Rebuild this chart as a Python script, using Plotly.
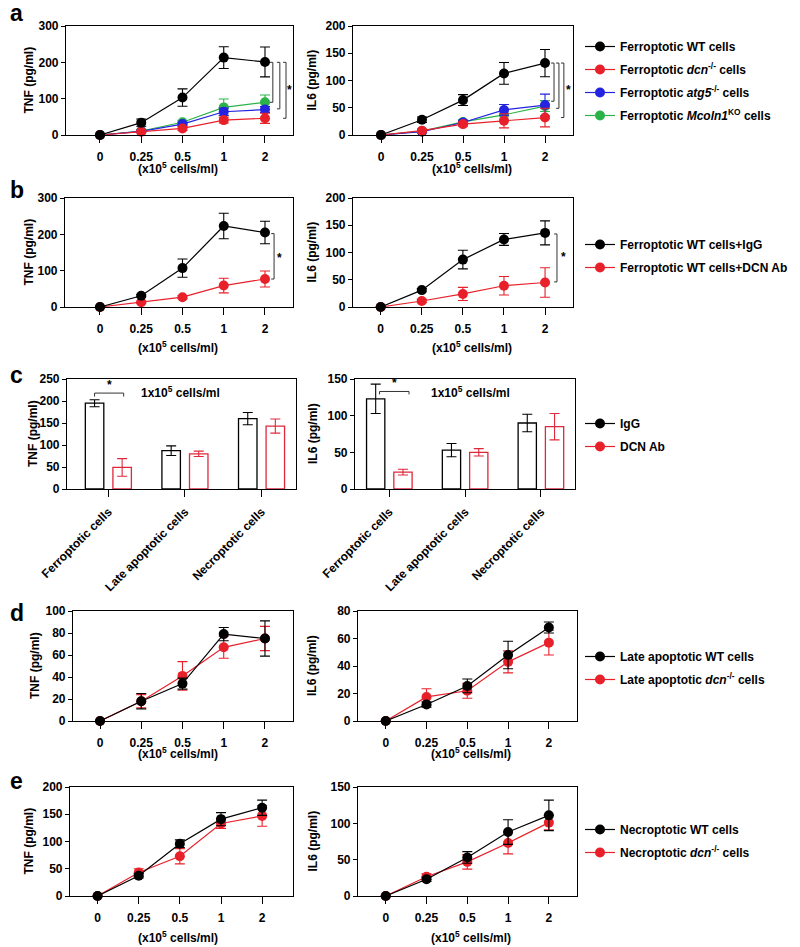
import plotly.graph_objects as go

W, H = 800, 947
OFF = 8  # the page body margin shifts the figure by this many pixels
FONT = "Liberation Sans, Arial, Helvetica, sans-serif"
BLACK = "#000000"
RED = "#e8202a"
BLUE = "#2323e0"
GREEN = "#2bb34a"
BAR_RED = "#e0283c"


def fx(p):
    return (p - OFF) / W


def fy(p):
    return 1 - (p - OFF) / H


# ---------------- data ----------------
conc_labels = ["0", "0.25", "0.5", "1", "2"]

# panel a
a_tnf_wt = [0, 34, 103, 213, 201]
a_tnf_wt_err = [0, 10, 24, 30, 41]
a_tnf_dcn = [0, 9, 18, 41, 46]
a_tnf_dcn_err = [0, 3, 5, 8, 14]
a_tnf_atg5 = [0, 10, 30, 64, 70]
a_tnf_atg5_err = [0, 3, 5, 10, 8]
a_tnf_mcoln1 = [0, 11, 35, 76, 90]
a_tnf_mcoln1_err = [0, 3, 5, 23, 20]

a_il6_wt = [0, 28, 64, 113, 132]
a_il6_wt_err = [0, 5, 10, 20, 25]
a_il6_dcn = [0, 8, 20, 26, 32]
a_il6_dcn_err = [0, 3, 4, 13, 17]
a_il6_atg5 = [0, 6, 23, 46, 55]
a_il6_atg5_err = [0, 2, 4, 10, 20]
a_il6_mcoln1 = [0, 7, 24, 37, 53]
a_il6_mcoln1_err = [0, 2, 4, 8, 10]

# panel b
b_tnf_igg = [0, 31, 107, 223, 205]
b_tnf_igg_err = [0, 3, 25, 35, 31]
b_tnf_dcnab = [0, 13, 27, 59, 77]
b_tnf_dcnab_err = [0, 3, 4, 20, 22]
b_il6_igg = [0, 31, 87, 124, 136]
b_il6_igg_err = [0, 3, 17, 11, 22]
b_il6_dcnab = [0, 11, 24, 39, 45]
b_il6_dcnab_err = [0, 3, 12, 17, 27]

# panel c
c_cats = ["Ferroptotic cells", "Late apoptotic cells", "Necroptotic cells"]
c_tnf_igg = [195, 87, 160]
c_tnf_igg_err = [8, 11, 14]
c_tnf_dcnab = [49, 80, 143]
c_tnf_dcnab_err = [20, 6, 16]
c_il6_igg = [123, 53, 90]
c_il6_igg_err = [20, 9, 12]
c_il6_dcnab = [23, 50, 85]
c_il6_dcnab_err = [4, 5, 18]

# panel d
d_tnf_wt = [0, 18, 34, 79, 75]
d_tnf_wt_err = [0, 7, 5, 6, 16]
d_tnf_dcn = [0, 18, 41, 67, 75]
d_tnf_dcn_err = [0, 6, 13, 10, 11]
d_il6_wt = [0, 12, 25.5, 48, 68]
d_il6_wt_err = [0, 2, 5, 10, 4]
d_il6_dcn = [0, 17.5, 22, 43, 57]
d_il6_dcn_err = [0, 6, 5.5, 8, 9]

# panel e
e_tnf_wt = [0, 37, 96, 141, 162]
e_tnf_wt_err = [0, 4, 7, 12, 14]
e_tnf_dcn = [0, 43, 73, 133, 147]
e_tnf_dcn_err = [0, 7, 14, 9, 19]
e_il6_wt = [0, 23, 53, 88, 111]
e_il6_wt_err = [0, 3, 8, 17, 21]
e_il6_dcn = [0, 26.5, 47, 73, 101]
e_il6_dcn_err = [0, 4, 10, 15, 10]

# significance brackets: (panel, x, top, bottom)
brackets_v = [
    (1, 4.19, 200, 90), (1, 4.36, 200, 72), (1, 4.51, 200, 46),
    (2, 4.22, 132, 62), (2, 4.34, 132, 49), (2, 4.46, 132, 32),
    (3, 4.22, 202, 77),
    (4, 4.29, 134, 46),
]
stars_v = [(1, 4.6, 123), (2, 4.58, 83), (3, 4.36, 136), (4, 4.45, 92)]
brackets_h = [(5, -0.18, 0.2, 218, 210), (6, -0.13, 0.26, 133, 129)]
stars_h = [(5, 0.01, 236), (6, 0.07, 145)]

# ---------------- layout geometry (pixels) ----------------
# (left, right, top, bottom, xrange, yrange, dtick, ytitle, ytitle_x)
panels = [
    (66, 293, 26, 135, [-0.824, 4.679], [0, 300], 100, "TNF (pg/ml)", 28),
    (353, 573, 26, 135, [-0.683, 4.683], [0, 200], 50, "IL6 (pg/ml)", 311),
    (65, 293, 198, 307, [-0.848, 4.679], [0, 300], 100, "TNF (pg/ml)", 28),
    (353, 573, 198, 307, [-0.674, 4.68], [0, 200], 50, "IL6 (pg/ml)", 311),
    (67, 296, 379, 489, [-0.54, 2.45], [0, 250], 50, "TNF (pg/ml)", 33),
    (355, 575, 379, 489, [-0.453, 2.45], [0, 150], 50, "IL6 (pg/ml)", 313),
    (73, 293, 611, 721, [-0.655, 4.68], [0, 100], 20, "TNF (pg/ml)", 35),
    (358, 577, 611, 721, [-0.68, 4.69], [0, 80], 20, "IL6 (pg/ml)", 312),
    (70, 293, 787, 896, [-0.67, 4.75], [0, 200], 50, "TNF (pg/ml)", 28),
    (358, 577, 787, 896, [-0.68, 4.69], [0, 150], 50, "IL6 (pg/ml)", 312),
]

fig = go.Figure()


def ax_ids(i):
    return ("x" if i == 1 else f"x{i}"), ("y" if i == 1 else f"y{i}")


def line(i, ys, errs, color, name, legend, rank, show):
    xr, yr = ax_ids(i)
    fig.add_trace(go.Scatter(
        x=conc_labels, y=ys, mode="lines+markers", name=name,
        xaxis=xr, yaxis=yr, legend=legend, legendrank=rank,
        legendgroup=legend + name, showlegend=show, cliponaxis=False,
        line=dict(color=color, width=1.2),
        marker=dict(color=color, size=10, symbol="circle"),
        error_y=dict(type="data", array=errs, visible=True, color=color,
                     thickness=1.1, width=5),
    ))


# panel a
wt = "Ferroptotic WT cells"
dcn = "Ferroptotic <i>dcn</i><sup>-/-</sup> cells"
atg = "Ferroptotic <i>atg5</i><sup>-/-</sup> cells"
mco = "Ferroptotic <i>Mcoln1</i><sup>KO</sup> cells"
for i, (g, ge, bl, ble, r, re, k, ke), show in [
    (1, (a_tnf_mcoln1, a_tnf_mcoln1_err, a_tnf_atg5, a_tnf_atg5_err,
         a_tnf_dcn, a_tnf_dcn_err, a_tnf_wt, a_tnf_wt_err), True),
    (2, (a_il6_mcoln1, a_il6_mcoln1_err, a_il6_atg5, a_il6_atg5_err,
         a_il6_dcn, a_il6_dcn_err, a_il6_wt, a_il6_wt_err), False),
]:
    line(i, g, ge, GREEN, mco, "legend", 4, show)
    line(i, bl, ble, BLUE, atg, "legend", 3, show)
    line(i, r, re, RED, dcn, "legend", 2, show)
    line(i, k, ke, BLACK, wt, "legend", 1, show)

# panel b
line(3, b_tnf_dcnab, b_tnf_dcnab_err, RED, "Ferroptotic WT cells+DCN Ab", "legend2", 2, True)
line(3, b_tnf_igg, b_tnf_igg_err, BLACK, "Ferroptotic WT cells+IgG", "legend2", 1, True)
line(4, b_il6_dcnab, b_il6_dcnab_err, RED, "Ferroptotic WT cells+DCN Ab", "legend2", 2, False)
line(4, b_il6_igg, b_il6_igg_err, BLACK, "Ferroptotic WT cells+IgG", "legend2", 1, False)

# panel c (bars)
for i, (ig, ige, dc, dce) in [
    (5, (c_tnf_igg, c_tnf_igg_err, c_tnf_dcnab, c_tnf_dcnab_err)),
    (6, (c_il6_igg, c_il6_igg_err, c_il6_dcnab, c_il6_dcnab_err)),
]:
    xr, yr = ax_ids(i)
    for ys, es, col, nm in [(ig, ige, BLACK, "IgG"), (dc, dce, BAR_RED, "DCN Ab")]:
        fig.add_trace(go.Bar(
            x=c_cats, y=ys, name=nm, xaxis=xr, yaxis=yr, showlegend=False,
            offsetgroup=nm, marker=dict(color="white", line=dict(color=col, width=1.3)),
            error_y=dict(type="data", array=es, visible=True, color=col,
                         thickness=1.1, width=5),
        ))
# legend entries for c
for nm, col, rk in [("IgG", BLACK, 1), ("DCN Ab", RED, 2)]:
    fig.add_trace(go.Scatter(
        x=[None], y=[None], mode="lines+markers", name=nm, xaxis="x5", yaxis="y5",
        legend="legend3", legendrank=rk, legendgroup="c" + nm,
        line=dict(color=col, width=1.2), marker=dict(color=col, size=10),
    ))

# panel d
line(7, d_tnf_dcn, d_tnf_dcn_err, RED, "Late apoptotic <i>dcn</i><sup>-/-</sup> cells", "legend4", 2, True)
line(7, d_tnf_wt, d_tnf_wt_err, BLACK, "Late apoptotic WT cells", "legend4", 1, True)
line(8, d_il6_dcn, d_il6_dcn_err, RED, "Late apoptotic <i>dcn</i><sup>-/-</sup> cells", "legend4", 2, False)
line(8, d_il6_wt, d_il6_wt_err, BLACK, "Late apoptotic WT cells", "legend4", 1, False)

# panel e
line(9, e_tnf_dcn, e_tnf_dcn_err, RED, "Necroptotic <i>dcn</i><sup>-/-</sup> cells", "legend5", 2, True)
line(9, e_tnf_wt, e_tnf_wt_err, BLACK, "Necroptotic WT cells", "legend5", 1, True)
line(10, e_il6_dcn, e_il6_dcn_err, RED, "Necroptotic <i>dcn</i><sup>-/-</sup> cells", "legend5", 2, False)
line(10, e_il6_wt, e_il6_wt_err, BLACK, "Necroptotic WT cells", "legend5", 1, False)

# ---------------- axes ----------------
layout = {}
annotations = []
for i, (l, r, t, b, xrng, yrng, dt, ytitle, ytx) in enumerate(panels, start=1):
    xk = "xaxis" if i == 1 else f"xaxis{i}"
    yk = "yaxis" if i == 1 else f"yaxis{i}"
    xr, yr = ax_ids(i)
    layout[xk] = dict(
        domain=[fx(l), fx(r)], anchor=yr, type="category", range=xrng,
        automargin=False,
        showline=True, mirror=True, linecolor="black", linewidth=1.2,
        ticks="outside", ticklen=7, tickwidth=1.2, tickcolor="black",
        tickfont=dict(family=FONT, size=12, color="black", weight="bold"),
        showgrid=False, zeroline=False, ticklabelstandoff=3,
        tickangle=-45 if i in (5, 6) else 0,
    )
    layout[yk] = dict(
        domain=[fy(b), fy(t)], anchor=xr, range=yrng, dtick=dt,
        automargin=False,
        showline=True, mirror=True, linecolor="black", linewidth=1.2,
        ticks="outside", ticklen=4, tickwidth=1.2, tickcolor="black",
        tickfont=dict(family=FONT, size=12, color="black", weight="bold"),
        showgrid=False, zeroline=False,
    )
    annotations.append(dict(
        text=ytitle, textangle=-90, x=fx(ytx), y=fy((t + b) / 2),
        xref="paper", yref="paper", xanchor="center", yanchor="middle",
        showarrow=False, font=dict(family=FONT, size=12, color="black", weight="bold"),
    ))

# x-axis titles
xt_text = "(x10<sup>5</sup> cells/ml)"
for xp, yp in [(178, 168), (472, 168), (178, 347), (472, 347),
               (178, 753), (471, 753), (178, 937), (471, 937)]:
    annotations.append(dict(
        text=xt_text, x=fx(xp), y=fy(yp), xref="paper", yref="paper",
        xanchor="center", yanchor="middle", showarrow=False,
        font=dict(family=FONT, size=12, color="black", weight="bold"),
    ))

# panel c note
for xp in (180, 470):
    annotations.append(dict(
        text="1x10<sup>5</sup> cells/ml", x=fx(xp), y=fy(392),
        xref="paper", yref="paper", xanchor="center", yanchor="middle",
        showarrow=False, font=dict(family=FONT, size=12, color="black", weight="bold"),
    ))

# panel letters
for txt, yp in [("a", 13), ("b", 190), ("c", 375), ("d", 613), ("e", 781)]:
    annotations.append(dict(
        text=txt, x=0, y=fy(yp), xref="paper", yref="paper",
        xanchor="left", yanchor="middle", showarrow=False,
        font=dict(family=FONT, size=23, color="black", weight="bold"),
    ))

shapes = []
cap = 0.07
for i, x, y1, y2 in brackets_v:
    xr, yr = ax_ids(i)
    shapes.append(dict(type="path", xref=xr, yref=yr,
                       path=f"M {x - cap},{y1} L {x},{y1} L {x},{y2} L {x - cap},{y2}",
                       line=dict(color="#333333", width=1)))
for i, x, y in stars_v + stars_h:
    xr, yr = ax_ids(i)
    annotations.append(dict(text="*", x=x, y=y, xref=xr, yref=yr, showarrow=False,
                            xanchor="center", yanchor="middle",
                            font=dict(family=FONT, size=12, color="black", weight="bold")))
for i, x1, x2, y, yc in brackets_h:
    xr, yr = ax_ids(i)
    shapes.append(dict(type="path", xref=xr, yref=yr,
                       path=f"M {x1},{yc} L {x1},{y} L {x2},{y} L {x2},{yc}",
                       line=dict(color="#333333", width=1)))

leg_common = dict(
    xanchor="left", yanchor="top", bgcolor="rgba(0,0,0,0)", borderwidth=0,
    font=dict(family=FONT, size=12, color="black", weight="bold"),
    traceorder="grouped", tracegroupgap=4, itemwidth=30,
)
legend_tops = {"legend": 32, "legend2": 230, "legend3": 409, "legend4": 642, "legend5": 815}
for k, top in legend_tops.items():
    layout[k] = dict(x=fx(580), y=fy(top), **leg_common)

fig.update_layout(
    template="none",
    width=W, height=H, margin=dict(l=0, r=0, t=0, b=0, autoexpand=False),
    paper_bgcolor="white", plot_bgcolor="white",
    font=dict(family=FONT, size=12, color="black"),
    barmode="group", bargap=0.28, bargroupgap=0.33,
    annotations=annotations, shapes=shapes,
    **layout,
)

fig.write_html("out.html")
